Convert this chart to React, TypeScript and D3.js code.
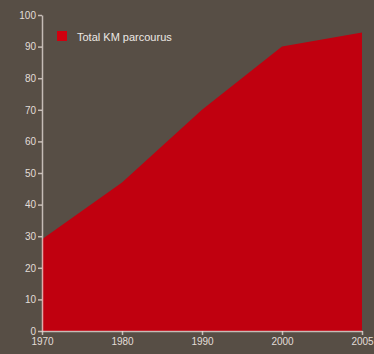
import React, { useEffect, useRef } from "react";
import * as d3 from "d3";

const years = ["1970", "1980", "1990", "2000", "2005"];
const kmValues = [29, 47, 70, 90, 94.5];
const yTicks = [0, 10, 20, 30, 40, 50, 60, 70, 80, 90, 100];
const seriesName = "Total KM parcourus";

const W = 374;
const H = 354;
const M = { left: 42, right: 12, top: 15, bottom: 23 };

export default function App() {
  const ref = useRef<SVGSVGElement>(null);
  useEffect(() => {
    const svg = d3.select(ref.current);
    svg.selectAll("*").remove();
    svg.append("rect").attr("width", W).attr("height", H).attr("fill", "#574e45");
    const x = d3.scalePoint<string>().domain(years).range([M.left, W - M.right]);
    const y = d3.scaleLinear().domain([0, 100]).range([H - M.bottom, M.top]);
    const data = years.map((yr, i) => ({ yr, v: kmValues[i] }));
    const area = d3
      .area<{ yr: string; v: number }>()
      .x((d) => x(d.yr)!)
      .y0(y(0))
      .y1((d) => y(d.v));
    svg.append("path").datum(data).attr("d", area).attr("fill", "#c0000f");

    const axisColor = "rgba(235,225,220,0.75)";
    const textColor = "#e2ddd8";
    const yAxis = svg
      .append("g")
      .attr("transform", `translate(${M.left},0)`)
      .call(d3.axisLeft(y).tickValues(yTicks).tickSize(4).tickPadding(2).tickSizeOuter(0));
    const xAxis = svg
      .append("g")
      .attr("transform", `translate(0,${H - M.bottom})`)
      .call(d3.axisBottom(x).tickSize(4).tickPadding(3).tickSizeOuter(0));
    [yAxis, xAxis].forEach((g) => {
      g.selectAll("path,line").attr("stroke", axisColor).attr("stroke-width", 1.5);
      g.selectAll("text")
        .attr("fill", textColor)
        .attr("font-family", "Liberation Sans, Arial, sans-serif")
        .attr("font-size", 10);
    });

    const lg = svg.append("g").attr("transform", "translate(57,31)");
    lg.append("rect").attr("width", 10).attr("height", 10).attr("fill", "#d0000f");
    lg.append("text")
      .attr("x", 20)
      .attr("y", 9.5)
      .attr("fill", "#ece8e4")
      .attr("font-family", "Liberation Sans, Arial, sans-serif")
      .attr("font-size", 11)
      .text(seriesName);
  }, []);
  return (
    <svg
      ref={ref}
      width={W}
      height={H}
      style={{ position: "fixed", left: 0, top: 0, display: "block" }}
    />
  );
}
